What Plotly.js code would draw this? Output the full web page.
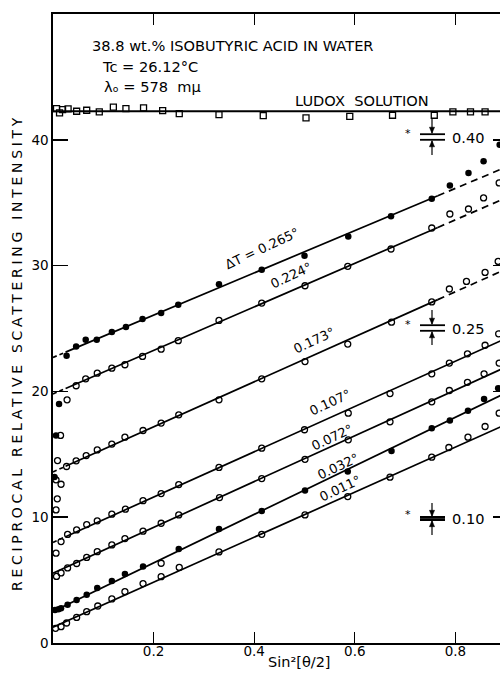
<!DOCTYPE html>
<html><head><meta charset="utf-8">
<script src="https://cdn.plot.ly/plotly-3.0.1.min.js"></script>
<style>
html,body{margin:0;padding:0;overflow:hidden;background:#fff;width:500px;height:673px}
#chart{width:510px;height:673px}
.annotation[data-index="0"] text{letter-spacing:3.7px}
</style></head><body><div id="chart"></div>
<script>
// ---------- data ----------
const seriesLabels = ['\u0394T = 0.265\u00b0','0.224\u00b0','0.173\u00b0','0.107\u00b0','0.072\u00b0','0.032\u00b0','0.011\u00b0'];

const x265 = [0.003,0.006,0.012,0.027,0.046,0.065,0.087,0.117,0.145,0.178,0.215,0.249,0.330,0.415,0.500,0.587,0.672,0.753,0.789,0.826,0.856,0.888];
const y265 = [13.2,16.5,19.0,22.83,23.57,24.10,24.10,24.72,25.12,25.75,26.23,26.89,28.52,29.67,30.79,32.32,33.92,35.32,36.36,37.37,38.29,39.6];

const x224 = [0.006,0.0085,0.015,0.028,0.046,0.065,0.088,0.117,0.143,0.178,0.215,0.249,0.330,0.415,0.501,0.586,0.672,0.753,0.789,0.826,0.856,0.887];
const y224 = [12.97,11.46,16.5,19.33,20.45,21.0,21.45,21.85,22.12,22.78,23.36,24.03,25.64,27.02,28.40,29.94,31.32,32.99,34.10,34.50,35.38,36.57];

const x173 = [0.006,0.009,0.016,0.027,0.046,0.066,0.088,0.117,0.143,0.179,0.215,0.250,0.330,0.415,0.501,0.586,0.673,0.753,0.788,0.822,0.859,0.885];
const y173 = [10.58,14.50,12.62,14.03,14.48,14.90,15.35,15.81,16.36,16.89,17.48,18.14,19.33,21.0,22.37,23.76,25.50,27.11,28.14,28.74,29.46,30.33];

const x107 = [0.006,0.016,0.029,0.047,0.067,0.088,0.117,0.144,0.179,0.215,0.250,0.330,0.415,0.500,0.587,0.670,0.753,0.788,0.824,0.859,0.886];
const y107 = [7.14,8.06,8.63,8.99,9.41,9.71,10.24,10.64,11.31,11.88,12.59,13.96,15.49,16.95,18.27,19.83,21.40,22.25,22.99,23.67,24.58];

const x072 = [0.007,0.016,0.029,0.047,0.067,0.088,0.117,0.143,0.179,0.215,0.250,0.331,0.415,0.501,0.587,0.670,0.753,0.788,0.824,0.857,0.887];
const y072 = [5.29,5.57,5.97,6.32,6.80,7.26,7.80,8.30,8.89,9.52,10.18,11.56,13.07,14.60,16.15,17.58,19.17,20.07,20.72,21.40,22.25];

const x032 = [0.004,0.011,0.016,0.029,0.047,0.067,0.088,0.117,0.143,0.179,0.250,0.330,0.415,0.501,0.586,0.673,0.753,0.789,0.825,0.857,0.885];
const y032 = [2.63,2.68,2.76,3.04,3.42,3.83,4.37,4.92,5.49,6.09,7.48,9.07,10.50,12.12,13.63,15.27,17.08,17.69,18.46,19.39,20.26];
const x032open = [0.215];
const y032open = [6.34];

const x011 = [0.005,0.016,0.027,0.047,0.067,0.089,0.117,0.143,0.179,0.215,0.251,0.330,0.415,0.501,0.586,0.670,0.753,0.787,0.825,0.859,0.887];
const y011 = [1.17,1.30,1.59,2.03,2.49,2.94,3.50,4.08,4.72,5.27,6.01,7.24,8.64,10.18,11.64,13.18,14.77,15.54,16.36,17.21,18.27];

const xLudox = [0.007,0.013,0.019,0.030,0.047,0.067,0.092,0.120,0.145,0.180,0.218,0.251,0.330,0.418,0.503,0.590,0.675,0.758,0.795,0.830,0.859];
const yLudox = [42.48,42.14,42.40,42.46,42.27,42.35,42.22,42.59,42.48,42.54,42.32,42.08,42.00,41.92,41.74,41.87,41.95,41.95,42.22,42.22,42.22];
const ludoxLevel = 42.27;

// fitted straight lines drawn through each series (intercept, slope)
const fitIntercepts = [22.7, 19.8, 13.6, 8.0, 5.55, 2.5, 1.25];
const fitSlopes     = [16.8, 17.3, 17.9, 18.0, 18.2, 19.3, 17.9];

const errorKeyLabels = ['0.40','0.25','0.10'];
const xTickVals = [0.2,0.4,0.6,0.8];
const xTickText = ['0.2','0.4','0.6','0.8'];
const yTickVals = [0,10,20,30,40];

// ---------- drawing ----------
const X = px => (px-53)/503;      // pixel helpers for text placement
const Y = py => (643-py)/12.58;
const PX = px => (px-53)/455;     // paper coords
const PY = py => (643-py)/629;
const XMAX = 455/503;
const FONT = 'DejaVu Sans, sans-serif';

const seriesX = [x265,x224,x173,x107,x072,x032,x011];
const seriesY = [y265,y224,y173,y107,y072,y032,y011];
const filled  = [true,false,false,false,false,true,false];
const dashedStart = [true,true,true,true,false,false,false];
const dashedEnd   = [true,true,true,false,false,false,false];

const traces = [];
const fitY = (i,x) => fitIntercepts[i] + fitSlopes[i]*x;
for (let i=0;i<7;i++){
  const xs = dashedStart[i] ? 0.025 : 0;
  const xe = dashedEnd[i] ? 0.765 : XMAX;
  if (dashedStart[i]) traces.push({x:[0,xs],y:[fitY(i,0),fitY(i,xs)],mode:'lines',line:{color:'#000',width:1.7,dash:'4px,3px'},hoverinfo:'skip'});
  traces.push({x:[xs,xe],y:[fitY(i,xs),fitY(i,xe)],mode:'lines',line:{color:'#000',width:1.7},hoverinfo:'skip'});
  if (dashedEnd[i]) traces.push({x:[xe,XMAX],y:[fitY(i,xe),fitY(i,XMAX)],mode:'lines',line:{color:'#000',width:1.7,dash:'7px,5px'},hoverinfo:'skip'});
}
for (let i=0;i<7;i++){
  traces.push({x:seriesX[i],y:seriesY[i],mode:'markers',name:seriesLabels[i],cliponaxis:false,
    marker:filled[i]?{symbol:'circle',size:6.5,color:'#000'}:{symbol:'circle-open',size:6,color:'#000',line:{width:1.3,color:'#000'}}});
}
traces.push({x:x032open,y:y032open,mode:'markers',marker:{symbol:'circle-open',size:6,color:'#000',line:{width:1.3,color:'#000'}}});
traces.push({x:[0,XMAX],y:[ludoxLevel,ludoxLevel],mode:'lines',line:{color:'#000',width:1.8},hoverinfo:'skip'});
traces.push({x:xLudox,y:yLudox,mode:'markers',cliponaxis:false,marker:{symbol:'square-open',size:6,color:'#000',line:{width:1.3,color:'#000'}}});

const ann = [];
// y title (index 0, letter-spaced via CSS)
ann.push({xref:'paper',yref:'paper',x:PX(17),y:PY(352),xanchor:'center',yanchor:'middle',text:'RECIPROCAL RELATIVE SCATTERING INTENSITY',textangle:-90,showarrow:false,font:{family:FONT,size:14,color:'#000'}});
ann.push({xref:'paper',yref:'paper',x:PX(299),y:PY(662),xanchor:'center',yanchor:'middle',text:'Sin\u00b2[\u03b8/2]',showarrow:false,font:{family:FONT,size:14.5,color:'#000'}});
ann.push({xref:'x',yref:'y',x:X(90),y:Y(45),xanchor:'left',text:'38.8 wt.% ISOBUTYRIC ACID IN WATER',showarrow:false,font:{family:FONT,size:14.6,color:'#000'}});
ann.push({xref:'x',yref:'y',x:X(100),y:Y(66),xanchor:'left',text:'Tc = 26.12\u00b0C',showarrow:false,font:{family:FONT,size:14.6,color:'#000'}});
ann.push({xref:'x',yref:'y',x:X(102),y:Y(86),xanchor:'left',text:'\u03bb\u2092 = 578  m\u03bc',showarrow:false,font:{family:FONT,size:14.6,color:'#000'}});
ann.push({xref:'x',yref:'y',x:X(293),y:Y(100.5),xanchor:'left',text:'LUDOX\u00a0\u00a0SOLUTION',showarrow:false,font:{family:FONT,size:14.6,color:'#000'}});

const labelPos = [[262,248],[291,275],[314,340],[330,402],[332,437],[338,466],[340,488]];
for (let i=0;i<7;i++){
  ann.push({xref:'x',yref:'y',x:X(labelPos[i][0]),y:Y(labelPos[i][1]),text:seriesLabels[i],textangle:-25,showarrow:false,font:{family:FONT,size:13,color:'#000'}});
}

// error keys: double bar, arrows and value
const keyPos = [[137,2.8,118,155],[328,2.8,310,345],[518.5,1.2,503,535]];
const shapes = [];
const tri = (cx,tipY,dir) => {
  const b = tipY - dir*6;
  return `M ${X(cx)},${Y(tipY)} L ${X(cx-2.6)},${Y(b)} L ${X(cx+2.6)},${Y(b)} Z`;
};
for (let k=0;k<3;k++){
  const [cy,half,top,bot] = keyPos[k];
  const w = k===2 ? 2.6 : 1.8;
  const up = cy-half, lo = cy+half;
  shapes.push({type:'line',xref:'x',yref:'y',x0:X(420),x1:X(445),y0:Y(up),y1:Y(up),line:{color:'#000',width:w}});
  shapes.push({type:'line',xref:'x',yref:'y',x0:X(420),x1:X(445),y0:Y(lo),y1:Y(lo),line:{color:'#000',width:w}});
  shapes.push({type:'line',xref:'x',yref:'y',x0:X(432),x1:X(432),y0:Y(top),y1:Y(up-1),line:{color:'#000',width:1.2}});
  shapes.push({type:'line',xref:'x',yref:'y',x0:X(432),x1:X(432),y0:Y(bot),y1:Y(lo+1),line:{color:'#000',width:1.2}});
  shapes.push({type:'path',xref:'x',yref:'y',path:tri(432,up-1,1),fillcolor:'#000',line:{color:'#000',width:0.5}});
  shapes.push({type:'path',xref:'x',yref:'y',path:tri(432,lo+1,-1),fillcolor:'#000',line:{color:'#000',width:0.5}});
  ann.push({xref:'x',yref:'y',x:X(450),y:Y(cy),xanchor:'left',text:errorKeyLabels[k],showarrow:false,font:{family:FONT,size:14.6,color:'#000'}});
  ann.push({xref:'x',yref:'y',x:X(408),y:Y(cy-4),text:'*',showarrow:false,font:{family:FONT,size:11,color:'#000'}});
}

const layout = {
  width:510,height:673,margin:{l:53,r:2,t:14,b:30},
  paper_bgcolor:'#fff',plot_bgcolor:'#fff',showlegend:false,
  font:{family:FONT,size:13,color:'#000'},
  xaxis:{range:[0,XMAX],showgrid:false,zeroline:false,showline:true,linecolor:'#000',linewidth:1.7,mirror:'ticks',
    ticks:'inside',ticklen:11,tickwidth:1.4,tickcolor:'#000',tickvals:xTickVals,ticktext:xTickText,
    ticklabelstandoff:-5,tickfont:{family:FONT,size:13.5,color:'#000'}},
  yaxis:{range:[0,50],showgrid:false,zeroline:false,showline:true,linecolor:'#000',linewidth:1.7,mirror:'ticks',
    ticks:'inside',ticklen:15,tickwidth:1.6,tickcolor:'#000',tickvals:yTickVals,
    ticklabelstandoff:0,tickfont:{family:FONT,size:13.5,color:'#000'}},
  annotations:ann,shapes:shapes
};
Plotly.newPlot('chart',traces,layout,{staticPlot:true,displayModeBar:false}).then(gd => {
  gd.querySelectorAll('text').forEach(t => { if (!t.textContent.trim()) t.remove(); });
});
</script></body></html>
